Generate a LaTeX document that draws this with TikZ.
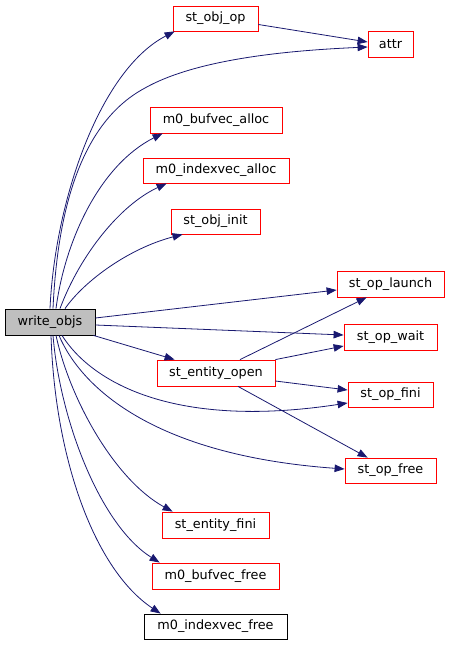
\documentclass[tikz,border=0pt]{standalone}
\usepackage{fontspec}
\setmainfont{DejaVu Sans}
\usetikzlibrary{arrows.meta}
\definecolor{edgeblue}{HTML}{191970}
\definecolor{nodegray}{HTML}{BFBFBF}
\begin{document}
\begin{tikzpicture}[x=1pt,y=-1pt,
  fn/.style={draw=red,line width=0.8pt,fill=white,inner sep=0pt,font=\fontsize{12.8pt}{15pt}\selectfont},
  fnb/.style={fn,draw=black},
  call/.style={draw=edgeblue,line width=0.8pt,-{Triangle[length=10pt,width=7.5pt]},fill=none},
  call/.append style={arrows={-{Triangle[length=10pt,width=7.5pt,fill=edgeblue]}}}]
\useasboundingbox (0,0) rectangle (449,645);
% nodes
\node[fnb,fill=nodegray,minimum width=90pt,minimum height=26pt] (wo) at (50,322) {write\_objs};
\node[fn,minimum width=85pt,minimum height=25pt] (oo) at (215.5,18.5) {st\_obj\_op};
\node[fn,minimum width=45pt,minimum height=26pt] (attr) at (390.5,44) {attr};
\node[fn,minimum width=132pt,minimum height=26pt] (ba) at (216,120) {m0\_bufvec\_alloc};
\node[fn,minimum width=146pt,minimum height=25pt] (ia) at (216,170.5) {m0\_indexvec\_alloc};
\node[fn,minimum width=89pt,minimum height=25pt] (oi) at (215.5,221.5) {st\_obj\_init};
\node[fn,minimum width=107pt,minimum height=26pt] (ol) at (390.5,284) {st\_op\_launch};
\node[fn,minimum width=93pt,minimum height=26pt] (ow) at (390.5,337) {st\_op\_wait};
\node[fn,minimum width=118pt,minimum height=26pt] (eo) at (216,373) {st\_entity\_open};
\node[fn,minimum width=85pt,minimum height=25pt] (of) at (390.5,394.5) {st\_op\_fini};
\node[fn,minimum width=91pt,minimum height=25pt] (ofr) at (390.5,470.5) {st\_op\_free};
\node[fn,minimum width=107pt,minimum height=26pt] (ef) at (215.5,525) {st\_entity\_fini};
\node[fn,minimum width=127pt,minimum height=26pt] (bf) at (215.5,576) {m0\_bufvec\_free};
\node[fnb,minimum width=143pt,minimum height=25pt] (xf) at (215.5,626.5) {m0\_indexvec\_free};
% edges from write_objs (top side)
\draw[call] (wo.north) .. controls (55,200) and (100,70) .. ([xshift=2pt]oo.south west);
\draw[call] ([xshift=3pt]wo.north) .. controls (58,200) and (85,120) .. (145,88)
  .. controls (200,57) and (300,50) .. ([yshift=-3pt]attr.west);
\draw[call] ([yshift=-6pt]oo.east) -- ([yshift=2pt]attr.west);
\draw[call] ([xshift=6pt]wo.north) .. controls (65,240) and (100,165) .. ([xshift=13pt]ba.south west);
\draw[call] ([xshift=10pt]wo.north) .. controls (80,255) and (120,205) .. ([xshift=24pt]ia.south west);
\draw[call] ([xshift=15pt]wo.north) .. controls (85,280) and (130,248) .. ([xshift=12pt]oi.south west);
% straight edges from write_objs
\draw[call] ([yshift=4pt]wo.east) -- ([yshift=-6pt]ol.west);
\draw[call] ([yshift=-3pt]wo.east) -- ([yshift=2pt]ow.west);
\draw[call] ([xshift=-2pt]wo.south east) -- ([xshift=18pt]eo.north west);
% edges from write_objs (bottom side)
\draw[call] ([xshift=12pt]wo.south) .. controls (90,380) and (170,430) .. ([yshift=-8.5pt]of.west);
\draw[call] ([xshift=9pt]wo.south) .. controls (80,385) and (150,455) .. ([yshift=1.5pt]ofr.west);
\draw[call] ([xshift=6pt]wo.south) .. controls (70,400) and (115,480) .. ([xshift=11pt]ef.north west);
\draw[call] ([xshift=3pt]wo.south) .. controls (60,420) and (100,525) .. ([xshift=8pt]bf.north west);
\draw[call] ([xshift=1pt]wo.south) .. controls (55,460) and (95,570) .. ([xshift=17pt]xf.north west);
% edges from st_entity_open
\draw[call] ([xshift=24pt]eo.north) -- ([xshift=30pt]ol.south west);
\draw[call] (eo.north east) -- ([yshift=-9pt]ow.west);
\draw[call] ([yshift=-8pt]eo.east) -- ([yshift=4.5pt]of.west);
\draw[call] ([xshift=22pt]eo.south) -- ([xshift=23pt]ofr.north west);
\end{tikzpicture}
\end{document}
